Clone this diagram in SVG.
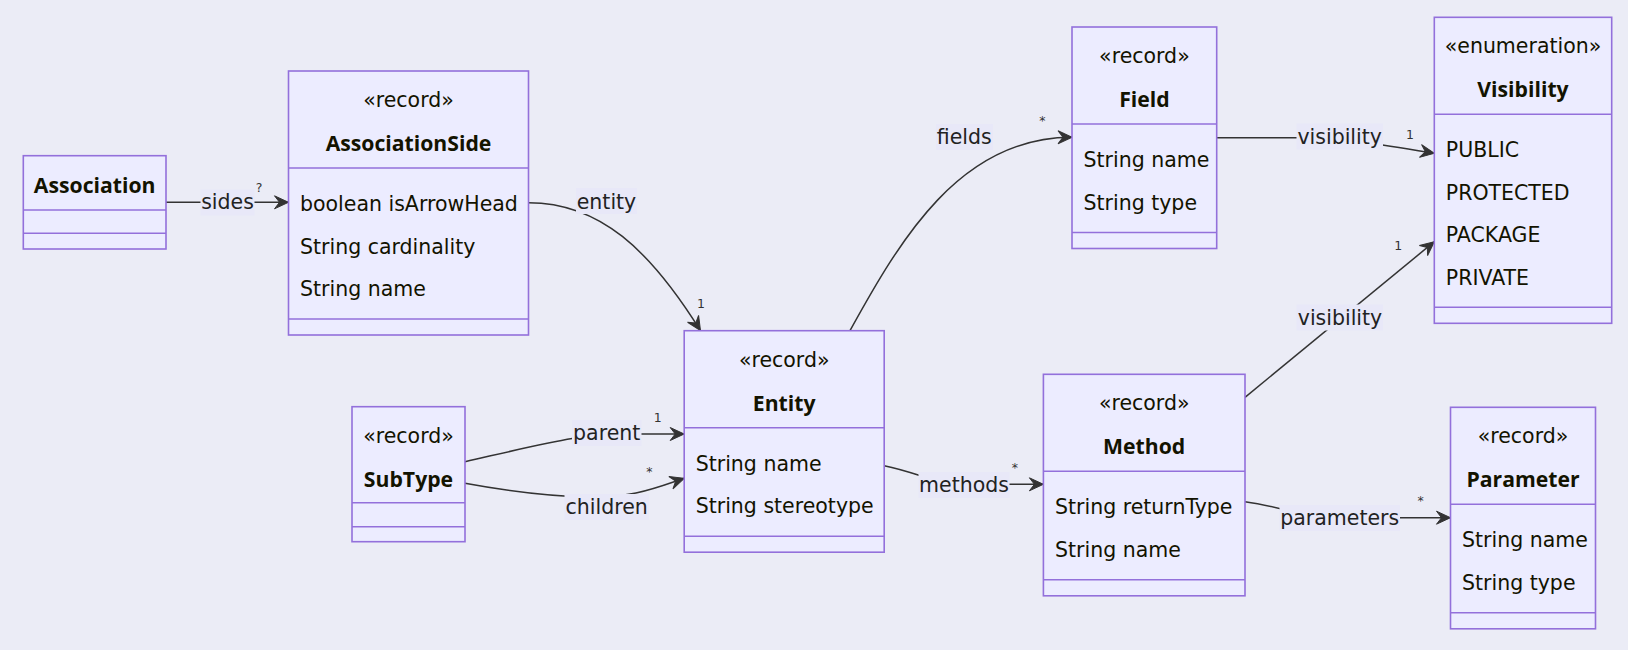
<svg xmlns="http://www.w3.org/2000/svg" width="1628" height="650" viewBox="0 0 1628 650">
<style>
.bg{fill:#EBECF6}
.box{fill:#ECECFF;stroke:#9370DB;stroke-width:1.6}
.div{stroke:#9370DB;stroke-width:1.6}
.st{font-family:"DejaVu Sans","Open Sans",sans-serif;font-size:20.5px;fill:#131300;text-anchor:middle}
.nm{font-family:"Open Sans","DejaVu Sans",sans-serif;font-size:21.2px;font-weight:700;fill:#131300;text-anchor:middle}
.mb{font-family:"DejaVu Sans","Open Sans",sans-serif;font-size:20.5px;fill:#131300}
.edge{fill:none;stroke:#333333;stroke-width:1.5}
.lbg{fill:#E8E8F8}
.el{font-family:"DejaVu Sans","Open Sans",sans-serif;font-size:20.5px;fill:#222222;text-anchor:middle}
.cd{font-family:"DejaVu Sans","Open Sans",sans-serif;font-size:12.5px;fill:#333333;text-anchor:middle}
</style>
<defs>
<marker id="arr" markerUnits="userSpaceOnUse" markerWidth="20" markerHeight="16" refX="16" refY="7" orient="auto" overflow="visible">
<path d="M16,7 L2,13.5 L7,7 L2,0.5 Z" fill="#333333" stroke="#333333" stroke-width="1" stroke-linejoin="miter"/>
</marker>
</defs>
<rect class="bg" x="0" y="0" width="1628" height="650"/>

<g id="connectors">
<path class="edge" d="M166,202.3 L288.5,202.3" marker-end="url(#arr)"/>
<path class="edge" d="M528.5,202.7 C600,202.7 650,250 700.5,330.7" marker-end="url(#arr)"/>
<path class="edge" d="M850,330.7 C900,240 960,137 1072,137.3" marker-end="url(#arr)"/>
<path class="edge" d="M1216.7,137.7 L1300,137.7 C1345,138 1385,145 1434.3,153.3" marker-end="url(#arr)"/>
<path class="edge" d="M1245,397.3 L1434.3,241.7" marker-end="url(#arr)"/>
<path class="edge" d="M884.2,465.7 C920,473 935,484.3 964,484.3 L1043.4,484.3" marker-end="url(#arr)"/>
<path class="edge" d="M1245,501.7 C1285,507 1300,517.7 1340,517.7 L1450.5,517.7" marker-end="url(#arr)"/>
<path class="edge" d="M465,461.7 C560,440 580,434 640,434 L684.2,434" marker-end="url(#arr)"/>
<path class="edge" d="M465,483.3 C540,497 600,500 636,493 C655,489 670,483 684.2,478.3" marker-end="url(#arr)"/>

<rect class="lbg" x="200.5" y="189.5" width="54" height="26"/>
<text class="el" x="227.5" y="209">sides</text>
<rect class="lbg" x="576" y="188" width="61" height="26"/>
<text class="el" x="606.5" y="208.5">entity</text>
<rect class="lbg" x="936" y="124" width="57" height="26"/>
<text class="el" x="964.3" y="144.3">fields</text>
<rect class="lbg" x="1296.5" y="123.5" width="86.5" height="26"/>
<text class="el" x="1339.7" y="144">visibility</text>
<rect class="lbg" x="1296.5" y="304.5" width="86.5" height="26"/>
<text class="el" x="1340" y="325">visibility</text>
<rect class="lbg" x="918.5" y="472" width="91" height="26"/>
<text class="el" x="964" y="492">methods</text>
<rect class="lbg" x="1279.5" y="505" width="120.5" height="26"/>
<text class="el" x="1339.7" y="525">parameters</text>
<rect class="lbg" x="572" y="420" width="69.5" height="26"/>
<text class="el" x="606.7" y="440">parent</text>
<rect class="lbg" x="564.5" y="494" width="84.5" height="26"/>
<text class="el" x="606.7" y="514">children</text>

<text class="cd" x="259" y="192">?</text>
<text class="cd" x="701" y="308">1</text>
<text class="cd" x="1042.3" y="125">*</text>
<text class="cd" x="1410" y="139">1</text>
<text class="cd" x="1398.3" y="250">1</text>
<text class="cd" x="1014.8" y="472">*</text>
<text class="cd" x="1420.5" y="505">*</text>
<text class="cd" x="657.7" y="422">1</text>
<text class="cd" x="649.3" y="476">*</text>
</g>

<g id="Association">
<rect class="box" x="23.3" y="155.7" width="142.7" height="93.3"/>
<line class="div" x1="23.3" y1="210" x2="166" y2="210"/>
<line class="div" x1="23.3" y1="233.3" x2="166" y2="233.3"/>
<text class="nm" x="94.7" y="192.7">Association</text>
</g>

<g id="AssociationSide">
<rect class="box" x="288.5" y="71" width="240" height="264"/>
<line class="div" x1="288.5" y1="168" x2="528.5" y2="168"/>
<line class="div" x1="288.5" y1="319" x2="528.5" y2="319"/>
<text class="st" x="408.5" y="107">«record»</text>
<text class="nm" x="408.5" y="151">AssociationSide</text>
<text class="mb" x="300" y="211">boolean isArrowHead</text>
<text class="mb" x="300" y="253.5">String cardinality</text>
<text class="mb" x="300" y="296">String name</text>
</g>

<g id="Field">
<rect class="box" x="1072" y="27" width="144.7" height="221.5"/>
<line class="div" x1="1072" y1="124" x2="1216.7" y2="124"/>
<line class="div" x1="1072" y1="232.5" x2="1216.7" y2="232.5"/>
<text class="st" x="1144.4" y="63">«record»</text>
<text class="nm" x="1144.4" y="107">Field</text>
<text class="mb" x="1083.5" y="167">String name</text>
<text class="mb" x="1083.5" y="209.5">String type</text>
</g>

<g id="Visibility">
<rect class="box" x="1434.3" y="17.3" width="177.4" height="306"/>
<line class="div" x1="1434.3" y1="114.3" x2="1611.7" y2="114.3"/>
<line class="div" x1="1434.3" y1="307.3" x2="1611.7" y2="307.3"/>
<text class="st" x="1523" y="53.3">«enumeration»</text>
<text class="nm" x="1523" y="97.3">Visibility</text>
<text class="mb" x="1445.8" y="157.3">PUBLIC</text>
<text class="mb" x="1445.8" y="199.8">PROTECTED</text>
<text class="mb" x="1445.8" y="242.3">PACKAGE</text>
<text class="mb" x="1445.8" y="284.8">PRIVATE</text>
</g>

<g id="Entity">
<rect class="box" x="684.2" y="330.7" width="200" height="221.5"/>
<line class="div" x1="684.2" y1="427.7" x2="884.2" y2="427.7"/>
<line class="div" x1="684.2" y1="536.2" x2="884.2" y2="536.2"/>
<text class="st" x="784.2" y="366.7">«record»</text>
<text class="nm" x="784.2" y="410.7">Entity</text>
<text class="mb" x="695.7" y="470.7">String name</text>
<text class="mb" x="695.7" y="513.2">String stereotype</text>
</g>

<g id="SubType">
<rect class="box" x="352" y="406.7" width="113" height="135"/>
<line class="div" x1="352" y1="502.7" x2="465" y2="502.7"/>
<line class="div" x1="352" y1="526.7" x2="465" y2="526.7"/>
<text class="st" x="408.5" y="442.7">«record»</text>
<text class="nm" x="408.5" y="486.7">SubType</text>
</g>

<g id="Method">
<rect class="box" x="1043.4" y="374.3" width="201.6" height="221.5"/>
<line class="div" x1="1043.4" y1="471.3" x2="1245" y2="471.3"/>
<line class="div" x1="1043.4" y1="579.8" x2="1245" y2="579.8"/>
<text class="st" x="1144.2" y="410.3">«record»</text>
<text class="nm" x="1144.2" y="454.3">Method</text>
<text class="mb" x="1055" y="514.3">String returnType</text>
<text class="mb" x="1055" y="556.8">String name</text>
</g>

<g id="Parameter">
<rect class="box" x="1450.5" y="407.3" width="145" height="221.5"/>
<line class="div" x1="1450.5" y1="504.3" x2="1595.5" y2="504.3"/>
<line class="div" x1="1450.5" y1="612.8" x2="1595.5" y2="612.8"/>
<text class="st" x="1523" y="443.3">«record»</text>
<text class="nm" x="1523" y="487.3">Parameter</text>
<text class="mb" x="1462" y="547.3">String name</text>
<text class="mb" x="1462" y="589.8">String type</text>
</g>
</svg>
